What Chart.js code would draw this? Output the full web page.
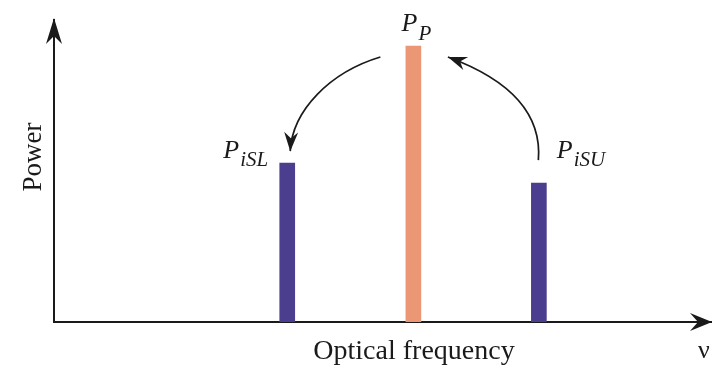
<!DOCTYPE html>
<html>
<head>
<meta charset="utf-8">
<script src="https://cdn.jsdelivr.net/npm/chart.js@4/dist/chart.umd.min.js"></script>
<style>
  html, body { margin: 0; padding: 0; background: #ffffff; }
  #wrap { width: 712px; height: 369px; }
</style>
</head>
<body>
<div id="wrap"><canvas id="spectrum" width="712" height="369"></canvas></div>
<script>
// Spectral lines: lower idler sideband, pump, upper idler sideband
const lineNames   = ['P_iSL', 'P_P', 'P_iSU'];
const frequencies = [35.5, 54.7, 73.8];   // relative optical frequency (a.u.)
const powers      = [52.6, 91.4, 46.0];   // relative power (a.u.)
const lineColors  = ['#4b3e8f', '#eb9675', '#4b3e8f'];
const labelMain   = ['P', 'P', 'P'];
const labelSub    = ['iSL', 'P', 'iSU'];
const xTitle = 'Optical frequency';
const yTitle = 'Power';
const xSymbol = 'ν';

const INK = '#1a1a1a';
const SERIF = '"Liberation Serif", "DejaVu Serif", serif';

// Stealth-style arrow head with its tip at (x, y) pointing along angle a
function arrowHead(ctx, x, y, a, len, half, notch) {
  const c = Math.cos(a), s = Math.sin(a);
  const bx = x - len * c, by = y - len * s;
  ctx.beginPath();
  ctx.moveTo(x, y);
  ctx.lineTo(bx - half * s, by + half * c);
  ctx.lineTo(x - (len - notch) * c, y - (len - notch) * s);
  ctx.lineTo(bx + half * s, by - half * c);
  ctx.closePath();
  ctx.fill();
}

function curvedArrow(ctx, p0, p1, p2, p3) {
  ctx.beginPath();
  ctx.moveTo(p0[0], p0[1]);
  ctx.bezierCurveTo(p1[0], p1[1], p2[0], p2[1], p3[0], p3[1]);
  ctx.stroke();
  const a = Math.atan2(p3[1] - p2[1], p3[0] - p2[0]);
  arrowHead(ctx, p3[0], p3[1], a, 19, 7, 6);
}

const annotations = {
  id: 'annotations',
  afterDraw(chart) {
    const ctx = chart.ctx;
    const area = chart.chartArea;
    const bars = chart.getDatasetMeta(0).data;
    ctx.save();
    ctx.fillStyle = INK;
    ctx.strokeStyle = INK;

    // axis arrow heads
    arrowHead(ctx, area.left, area.top - 2, -Math.PI / 2, 26, 8, 8);
    arrowHead(ctx, area.right + 1, area.bottom, 0, 22, 9, 8);

    // axis titles
    ctx.font = '28px ' + SERIF;
    ctx.textAlign = 'center';
    ctx.textBaseline = 'alphabetic';
    ctx.fillText(xTitle, area.left + 360, area.bottom + 37);
    ctx.font = '26px ' + SERIF;
    ctx.fillText(xSymbol, area.right - 7, area.bottom + 36);
    ctx.save();
    ctx.translate(area.left - 13, (area.top + area.bottom) / 2 - 14);
    ctx.rotate(-Math.PI / 2);
    ctx.font = '27px ' + SERIF;
    ctx.fillText(yTitle, 0, 0);
    ctx.restore();

    // line labels: italic P with subscript
    const mainFont = 'italic 26px ' + SERIF;
    const subFont = 'italic 21px ' + SERIF;
    ctx.textAlign = 'left';
    bars.forEach((bar, i) => {
      ctx.font = mainFont;
      const wMain = ctx.measureText(labelMain[i]).width;
      ctx.font = subFont;
      const wSub = ctx.measureText(labelSub[i]).width;
      const total = wMain + 1 + wSub;
      let x0, base;
      if (i === 0) { x0 = bar.x - 19 - total; base = bar.y - 5; }
      else if (i === 1) { x0 = bar.x + 3 - total / 2; base = bar.y - 15; }
      else { x0 = bar.x + 18 ; base = bar.y - 25; }
      ctx.font = mainFont;
      ctx.fillText(labelMain[i], x0, base);
      ctx.font = subFont;
      ctx.fillText(labelSub[i], x0 + wMain + 1, base + (i === 1 ? 9 : 8));
    });

    // energy transfer arrows
    ctx.lineWidth = 1.7;
    const pl = bars[0], pp = bars[1], pu = bars[2];
    curvedArrow(ctx,
      [pp.x - 33, pp.y + 11],
      [pp.x - 83, pp.y + 26],
      [pl.x + 5, pl.y - 53],
      [pl.x + 3, pl.y - 12]);
    curvedArrow(ctx,
      [pu.x - 0.5, pu.y - 23],
      [pu.x + 3.5, pu.y - 73],
      [pp.x + 91.5, pp.y + 32],
      [pp.x + 34.5, pp.y + 11]);

    ctx.restore();
  }
};

new Chart(document.getElementById('spectrum'), {
  type: 'bar',
  data: {
    datasets: [{
      label: 'Spectral lines',
      data: frequencies.map((f, i) => ({ x: f, y: powers[i] })),
      backgroundColor: lineColors,
      borderWidth: 0,
      barThickness: 15
    }]
  },
  options: {
    responsive: false,
    devicePixelRatio: 1,
    animation: false,
    layout: { padding: { left: 54, right: 1, top: 20, bottom: 47 } },
    plugins: { legend: { display: false }, tooltip: { enabled: false } },
    scales: {
      x: {
        type: 'linear', min: 0, max: 100, offset: false,
        grid: { display: false, drawTicks: false },
        ticks: { display: false },
        border: { display: true, color: INK, width: 2 }
      },
      y: {
        min: 0, max: 100,
        grid: { display: false, drawTicks: false },
        ticks: { display: false },
        border: { display: true, color: INK, width: 2 }
      }
    }
  },
  plugins: [annotations]
});
</script>
</body>
</html>
